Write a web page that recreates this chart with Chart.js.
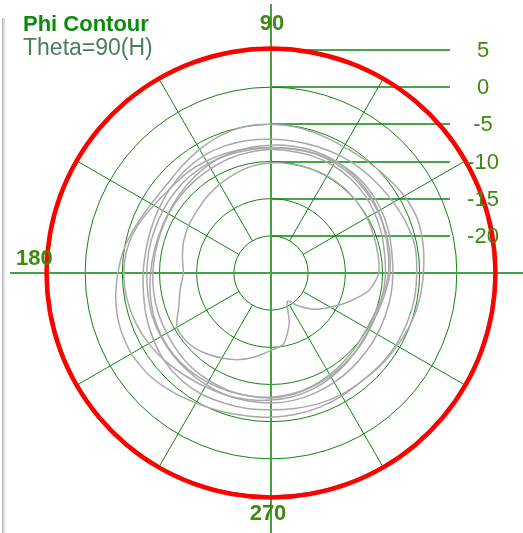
<!DOCTYPE html>
<html>
<head>
<meta charset="utf-8">
<script src="https://cdn.jsdelivr.net/npm/chart.js@4.4.0/dist/chart.umd.min.js"></script>
<style>
html, body { margin: 0; padding: 0; background: #fff; }
#wrap { width: 523px; height: 533px; position: relative; }
</style>
</head>
<body>
<div id="wrap"><canvas id="chartPhi"></canvas></div>
<script>
// phi angle of each sample (deg, counter-clockwise from the right)
const phiAngles = [0, 10, 20, 30, 40, 50, 60, 70, 80, 90, 100, 110, 120, 130, 140, 150, 160, 170,
    180, 190, 200, 210, 220, 230, 240, 250, 260, 270, 280, 290, 300, 310, 320, 330, 340, 350];

const ringTicks = [5, 0, -5, -10, -15, -20];
const spokeAngles = [30, 60, 120, 150, 210, 240, 300, 330];
const axisLabels = ["90", "180", "270"];

// red reference contour
const refLevel = [5.2, 5.2, 5.2, 5.2, 5.2, 5.2, 5.2, 5.2, 5.2, 5.2, 5.2, 5.2, 5.2, 5.2, 5.2, 5.2, 5.2, 5.2,
    5.2, 5.2, 5.2, 5.2, 5.2, 5.2, 5.2, 5.2, 5.2, 5.2, 5.2, 5.2, 5.2, 5.2, 5.2, 5.2, 5.2, 5.2];

// gray measured contours (dB)
const trace1 = [-4.5, -4.2, -4.0, -4.3, -4.8, -5.2, -5.4, -5.3, -5.1, -5.0, -5.0, -5.3, -5.8, -6.3, -6.6, -6.4, -5.8, -5.0,
    -4.4, -3.8, -3.4, -3.3, -3.6, -4.2, -4.8, -5.2, -5.5, -5.6, -5.7, -5.8, -5.9, -6.0, -5.7, -5.4, -5.0, -4.7];
const trace2 = [-5.4, -5.3, -5.6, -6.0, -6.3, -6.5, -6.7, -6.9, -7.0, -7.0, -6.9, -6.8, -6.8, -7.0, -7.3, -7.6, -7.8, -7.9,
    -7.8, -7.6, -7.2, -6.8, -6.4, -6.2, -6.2, -6.4, -6.5, -6.6, -6.5, -6.3, -6.1, -6.0, -5.8, -5.6, -5.5, -5.4];
const trace3 = [-8.6, -8.5, -8.2, -7.9, -7.7, -7.6, -7.7, -7.9, -8.1, -8.2, -8.2, -8.1, -8.0, -8.0, -8.1, -8.2, -8.3, -8.3,
    -8.3, -8.2, -8.0, -7.9, -7.8, -7.7, -7.6, -7.5, -7.5, -7.5, -7.6, -7.8, -8.0, -8.2, -8.4, -8.5, -8.6, -8.6];
const trace4 = [-9.6, -9.5, -9.2, -8.9, -8.6, -8.4, -8.3, -8.3, -8.4, -8.4, -8.5, -8.6, -8.8, -8.9, -9.0, -9.1, -9.2, -9.2,
    -9.1, -9.0, -8.9, -8.8, -8.6, -8.4, -8.3, -8.2, -8.2, -8.2, -8.4, -8.7, -9.0, -9.3, -9.5, -9.7, -9.8, -9.7];
const trace5 = [-10.5, -10.4, -10.3, -10.1, -10.0, -9.9, -9.9, -10.0, -10.1, -10.2, -10.4, -10.8, -11.2, -11.6, -12.0, -12.2, -12.5, -12.9,
    -13.2, -12.6, -11.8, -10.4, -10.4, -11.0, -11.8, -12.6, -13.6, -14.6, -15.3, -17.8, -20.6, -19.2, -17.4, -15.8, -13.8, -11.6];
const trace6 = [-9.0, -8.8, -8.6, -8.4, -8.2, -8.0, -7.9, -7.9, -8.0, -8.1, -8.0, -7.8, -7.6, -7.4, -7.3, -6.8, -6.0, -5.4,
    -5.2, -5.3, -5.6, -6.0, -6.5, -7.0, -7.3, -7.5, -7.7, -7.9, -8.1, -8.4, -8.8, -9.2, -9.6, -9.8, -9.7, -9.4];
const trace7 = [-9.2, -9.0, -8.7, -8.3, -8.0, -7.8, -7.6, -7.6, -7.7, -7.8, -7.9, -8.0, -8.2, -8.5, -8.8, -9.0, -9.1, -9.0,
    -8.8, -8.5, -8.2, -8.0, -7.9, -7.9, -8.0, -8.1, -8.2, -8.3, -8.5, -8.8, -9.2, -9.6, -9.9, -10.1, -10.0, -9.6];

const grayTraces = [trace1, trace2, trace3, trace4, trace5, trace6, trace7];

// radar index 0 sits at the right and runs clockwise, so flip to counter-clockwise
const toRadar = arr => arr.map((_, i) => arr[(arr.length - i) % arr.length]);

const gridGreen = "#0f850f";
const axisGreen = "#43a343";

const polarDecor = {
    id: "polarDecor",
    beforeDatasetsDraw(chart) {
        const { ctx } = chart;
        const s = chart.scales.r;
        const cx = s.xCenter, cy = s.yCenter;
        ctx.save();

        // window edge at the left
        ctx.fillStyle = "#b4b4b4";
        ctx.fillRect(2, 18, 1, chart.height - 18);
        ctx.fillStyle = "#dedede";
        ctx.fillRect(3, 18, 2, chart.height - 18);

        // spokes between the inner and outer rings
        const r0 = s.getDistanceFromCenterForValue(-20);
        const r1 = s.getDistanceFromCenterForValue(5);
        ctx.strokeStyle = gridGreen;
        ctx.lineWidth = 1;
        ctx.beginPath();
        spokeAngles.forEach(a => {
            const t = a * Math.PI / 180;
            ctx.moveTo(cx + Math.cos(t) * r0, cy - Math.sin(t) * r0);
            ctx.lineTo(cx + Math.cos(t) * r1, cy - Math.sin(t) * r1);
        });
        ctx.stroke();

        // level lines to the tick labels
        ctx.lineWidth = 1.5;
        ctx.beginPath();
        ringTicks.forEach(v => {
            const y = Math.round(cy - s.getDistanceFromCenterForValue(v));
            ctx.moveTo(cx, y);
            ctx.lineTo(450, y);
        });
        ctx.stroke();

        // main axes
        ctx.strokeStyle = axisGreen;
        ctx.lineWidth = 2;
        ctx.beginPath();
        ctx.moveTo(10, cy);
        ctx.lineTo(chart.width, cy);
        ctx.moveTo(cx, 4);
        ctx.lineTo(cx, chart.height);
        ctx.stroke();
        ctx.restore();
    },
    afterDraw(chart) {
        const { ctx } = chart;
        const s = chart.scales.r;
        const cx = s.xCenter, cy = s.yCenter;
        ctx.save();

        ctx.textBaseline = "alphabetic";
        ctx.textAlign = "left";
        ctx.fillStyle = "#0b8a0b";
        ctx.font = "bold 22px 'Liberation Sans', Arial, sans-serif";
        ctx.fillText("Phi Contour", 23, 31);
        ctx.fillStyle = "#4a7f5a";
        ctx.font = "23px 'Liberation Sans', Arial, sans-serif";
        ctx.fillText("Theta=90(H)", 23, 55);

        // angle labels
        ctx.fillStyle = "#3f8a10";
        ctx.font = "bold 22px 'Liberation Sans', Arial, sans-serif";
        ctx.textAlign = "center";
        ctx.fillText(axisLabels[0], cx + 1, 30);
        ctx.fillText(axisLabels[2], cx - 3, 520);
        ctx.textAlign = "left";
        ctx.fillText(axisLabels[1], 16, cy - 8);

        // level labels
        ctx.font = "22px 'Liberation Sans', Arial, sans-serif";
        ctx.textAlign = "center";
        ctx.textBaseline = "middle";
        ringTicks.forEach(v => {
            const y = cy - s.getDistanceFromCenterForValue(v);
            ctx.fillText(String(v), 483, y + 1);
        });
        ctx.restore();
    }
};

const grayDatasets = grayTraces.map(t => ({
    data: toRadar(t),
    borderColor: "#a9a9a9",
    borderWidth: 1.5,
    fill: false,
    tension: 0.25,
    pointRadius: 0
}));

new Chart(document.getElementById("chartPhi"), {
    type: "radar",
    data: {
        labels: toRadar(phiAngles).map(String),
        datasets: [{
            data: toRadar(refLevel),
            borderColor: "#ff0000",
            borderWidth: 4.5,
            fill: false,
            tension: 0.4,
            pointRadius: 0
        }, ...grayDatasets]
    },
    options: {
        responsive: true,
        maintainAspectRatio: false,
        animation: false,
        events: [],
        layout: { padding: { left: 48, right: 29, top: 50, bottom: 37 } },
        plugins: {
            legend: { display: false },
            tooltip: { enabled: false }
        },
        scales: {
            r: {
                min: -25,
                max: 5,
                startAngle: 90,
                ticks: { display: false, stepSize: 5 },
                pointLabels: { display: false },
                angleLines: { display: false },
                grid: { circular: true, color: gridGreen, lineWidth: 1 }
            }
        }
    },
    plugins: [polarDecor]
});
</script>
</body>
</html>
